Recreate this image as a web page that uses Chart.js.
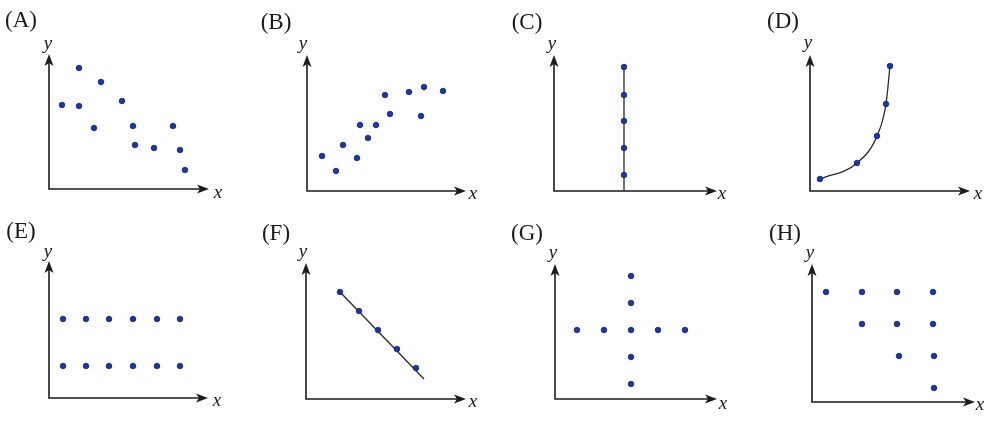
<!DOCTYPE html>
<html>
<head>
<meta charset="utf-8">
<script src="https://cdn.jsdelivr.net/npm/chart.js@4/dist/chart.umd.min.js"></script>
<style>
  html, body { margin: 0; padding: 0; background: #fff; }
  #wrap { position: relative; width: 1000px; height: 421px; overflow: hidden; }
  .cell { position: absolute; width: 250px; height: 210px; }
  .cell canvas { display: block; }
  .lbl { position: absolute; transform: translate(-50%, -50%); font-family: "Liberation Serif", "DejaVu Serif", serif; color: #1a1a1a; white-space: nowrap; line-height: 1; }
  .panel { font-size: 23px; }
  .ax { font-size: 19px; font-style: italic; }
</style>
</head>
<body>
<div id="wrap"></div>
<script>
// ---- Data (units; origin of each panel = 0,0) ----
const panelNames = ["(A)", "(B)", "(C)", "(D)", "(E)", "(F)", "(G)", "(H)"];

const ptsA_x = [30, 52, 13, 30, 73, 45, 84, 124, 86, 105, 131, 136];
const ptsA_y = [121, 107, 84, 83, 88, 61, 63, 63, 44, 41, 39, 19];

const ptsB_x = [15, 29, 36, 50, 53, 61, 69, 78, 83, 102, 114, 117, 136];
const ptsB_y = [35, 20, 46, 33, 66, 53, 66, 96, 77, 99, 75, 104, 100];

const ptsC_x = [70, 70, 70, 70, 70];
const ptsC_y = [124, 96, 70, 43, 16];
const lineC_x = [70, 70];
const lineC_y = [124, 0];

const ptsD_x = [10, 47, 67, 76, 80];
const ptsD_y = [12, 28, 55, 87, 125];

const ptsE_x = [14, 37, 60, 84, 108, 131, 14, 37, 60, 84, 108, 131];
const ptsE_y = [79, 79, 79, 79, 79, 79, 32, 32, 32, 32, 32, 32];

const ptsF_x = [34, 53, 72, 91, 110];
const ptsF_y = [107, 88, 69, 50, 31];
const lineF_x = [34, 118];
const lineF_y = [107, 20];

const ptsG_x = [76, 76, 76, 76, 76, 22, 49, 103, 130];
const ptsG_y = [123, 96, 69, 42, 15, 69, 69, 69, 69];

const ptsH_x = [14, 50, 85, 121, 50, 85, 121, 87, 122, 122];
const ptsH_y = [110, 110, 110, 110, 78, 78, 78, 46, 46, 14];

// ---- Layout of the panels (page pixels) ----
const layout = [
  { cx: 0,   cy: 0,   ox: 49,  oy: 189, tx: 209, ty: 54,  pl: [21, 19],  yl: [48, 42],  xl: [218, 191] },
  { cx: 250, cy: 0,   ox: 307, oy: 191, tx: 466, ty: 55,  pl: [276, 21], yl: [303, 42], xl: [473, 192] },
  { cx: 500, cy: 0,   ox: 554, oy: 191, tx: 717, ty: 55,  pl: [527, 21], yl: [552, 42], xl: [722, 192] },
  { cx: 750, cy: 0,   ox: 810, oy: 191, tx: 970, ty: 55,  pl: [783, 20], yl: [808, 41], xl: [978, 192] },
  { cx: 0,   cy: 211, ox: 49,  oy: 398, tx: 208, ty: 261, pl: [21, 230], yl: [48, 250], xl: [217, 399] },
  { cx: 250, cy: 211, ox: 306, oy: 399, tx: 466, ty: 263, pl: [276, 232], yl: [303, 250], xl: [473, 400] },
  { cx: 500, cy: 211, ox: 555, oy: 399, tx: 717, ty: 264, pl: [527, 232], yl: [553, 251], xl: [723, 402] },
  { cx: 750, cy: 211, ox: 812, oy: 402, tx: 975, ty: 264, pl: [785, 232], yl: [810, 251], xl: [980, 403] }
];

const zip = (xs, ys) => xs.map((x, i) => ({ x, y: ys[i] }));

const pointsList = [
  zip(ptsA_x, ptsA_y), zip(ptsB_x, ptsB_y), zip(ptsC_x, ptsC_y), zip(ptsD_x, ptsD_y),
  zip(ptsE_x, ptsE_y), zip(ptsF_x, ptsF_y), zip(ptsG_x, ptsG_y), zip(ptsH_x, ptsH_y)
];
const linesList = [null, null, { data: zip(lineC_x, lineC_y), curve: false }, { data: zip(ptsD_x, ptsD_y), curve: true },
  null, { data: zip(lineF_x, lineF_y), curve: false }, null, null];

const DOT_FILL = "#1b389a";
const DOT_EDGE = "#0f2577";
const AXIS = "#1c1c1c";

function arrowHead(ctx, x, y, dir) {
  const L = 12, W = 4.5, N = 3;
  ctx.beginPath();
  if (dir === 'up') {
    ctx.moveTo(x, y);
    ctx.lineTo(x - W, y + L);
    ctx.lineTo(x, y + L - N);
    ctx.lineTo(x + W, y + L);
  } else {
    ctx.moveTo(x, y);
    ctx.lineTo(x - L, y - W);
    ctx.lineTo(x - L + N, y);
    ctx.lineTo(x - L, y + W);
  }
  ctx.closePath();
  ctx.fill();
}

const axesPlugin = {
  id: 'arrowAxes',
  beforeDatasetsDraw(chart) {
    const { ctx, chartArea: a } = chart;
    ctx.save();
    ctx.strokeStyle = AXIS;
    ctx.fillStyle = AXIS;
    ctx.lineWidth = 1.6;
    ctx.beginPath();
    ctx.moveTo(a.left, a.top + 6);
    ctx.lineTo(a.left, a.bottom);
    ctx.lineTo(a.right - 6, a.bottom);
    ctx.stroke();
    arrowHead(ctx, a.left, a.top, 'up');
    arrowHead(ctx, a.right, a.bottom, 'right');
    ctx.restore();
  }
};

const wrap = document.getElementById('wrap');

layout.forEach((L, i) => {
  const cell = document.createElement('div');
  cell.className = 'cell';
  cell.style.left = L.cx + 'px';
  cell.style.top = L.cy + 'px';
  const cv = document.createElement('canvas');
  cv.width = 250; cv.height = 210;
  cv.style.width = '250px'; cv.style.height = '210px';
  cell.appendChild(cv);
  wrap.appendChild(cell);

  const datasets = [{
    type: 'scatter',
    data: pointsList[i],
    backgroundColor: DOT_FILL,
    borderColor: DOT_EDGE,
    borderWidth: 0.8,
    pointRadius: 2.8,
    order: 0,
    clip: false
  }];
  const ln = linesList[i];
  if (ln) {
    datasets.push({
      type: 'line',
      data: ln.data,
      showLine: true,
      borderColor: "#2a2a2a",
      borderWidth: 1.3,
      pointRadius: 0,
      fill: false,
      tension: ln.curve ? 0.4 : 0,
      cubicInterpolationMode: ln.curve ? 'monotone' : 'default',
      order: 1,
      clip: false
    });
  }

  new Chart(cv, {
    type: 'scatter',
    data: { datasets },
    options: {
      responsive: false,
      maintainAspectRatio: false,
      animation: false,
      events: [],
      devicePixelRatio: 1,
      layout: {
        padding: {
          left: L.ox - L.cx,
          top: L.ty - L.cy,
          right: L.cx + 250 - L.tx,
          bottom: L.cy + 210 - L.oy
        }
      },
      plugins: { legend: { display: false }, tooltip: { enabled: false }, title: { display: false } },
      scales: {
        x: { type: 'linear', display: false, min: 0, max: L.tx - L.ox },
        y: { type: 'linear', display: false, min: 0, max: L.oy - L.ty }
      }
    },
    plugins: [axesPlugin]
  });

  const mk = (txt, cls, pos) => {
    const d = document.createElement('div');
    d.className = 'lbl ' + cls;
    d.textContent = txt;
    d.style.left = pos[0] + 'px';
    d.style.top = pos[1] + 'px';
    wrap.appendChild(d);
  };
  mk(panelNames[i], 'panel', L.pl);
  mk('y', 'ax', L.yl);
  mk('x', 'ax', L.xl);
});
</script>
</body>
</html>
